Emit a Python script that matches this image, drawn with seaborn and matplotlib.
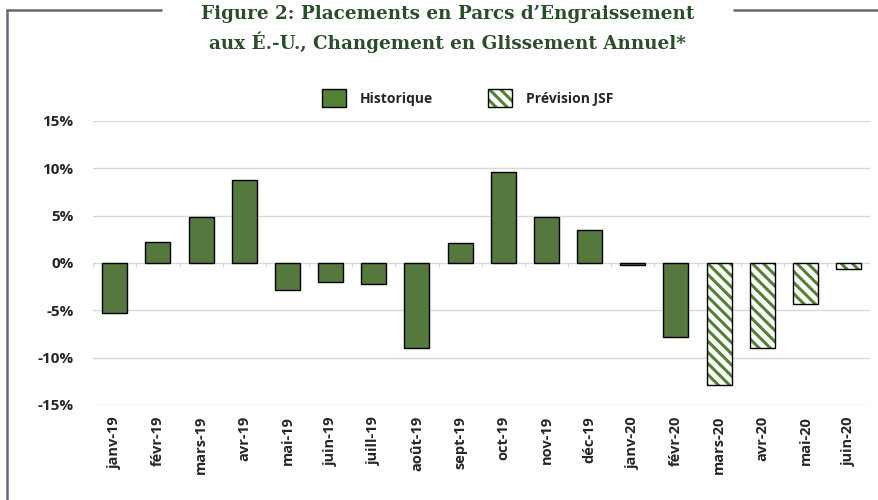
import numpy as np
import pandas as pd
import seaborn as sns
import matplotlib.pyplot as plt
from matplotlib.patches import Patch
from matplotlib.lines import Line2D
from matplotlib.colors import to_rgba

# monthly year-over-year change in placements (%)
hist_months = ['janv-19', 'févr-19', 'mars-19', 'avr-19', 'mai-19', 'juin-19', 'juill-19',
               'août-19', 'sept-19', 'oct-19', 'nov-19', 'déc-19', 'janv-20', 'févr-20']
hist_values = [-5.3, 2.2, 4.9, 8.8, -2.8, -2.0, -2.2, -9.0, 2.1, 9.6, 4.9, 3.5, -0.2, -7.8]
fcst_months = ['mars-20', 'avr-20', 'mai-20', 'juin-20']
fcst_values = [-12.9, -9.0, -4.3, -0.6]
y_ticks = [-15, -10, -5, 0, 5, 10, 15]

green = '#538135'
title_col = '#2a4d2a'
frame_col = '#5f6b76'
HATCH = '\\\\\\'

df = pd.concat([
    pd.DataFrame({'mois': hist_months, 'val': hist_values, 'type': 'Historique'}),
    pd.DataFrame({'mois': fcst_months, 'val': fcst_values, 'type': 'Prévision JSF'}),
], ignore_index=True)

sns.set_style('white')
plt.rcParams['font.family'] = ['Open Sans', 'DejaVu Sans']
plt.rcParams['hatch.linewidth'] = 2.2

fig = plt.figure(figsize=(8.79, 5.0), dpi=100)
ax = fig.add_axes([0.106, 0.19, 0.884, 0.568])

sns.barplot(data=df, x='mois', y='val', hue='type', dodge=False, width=0.58,
            palette={'Historique': green, 'Prévision JSF': 'white'},
            edgecolor='black', linewidth=1, legend=False, ax=ax, zorder=3)

# forecast bars: green hatching, black outline
for p in ax.containers[1]:
    p.set_hatch(HATCH)
    p._hatch_color = to_rgba(green)

ax.set_ylim(-15, 15)
ax.set_xlim(-0.5, len(df) - 0.5)
ax.set_yticks(y_ticks)
ax.set_yticklabels([f'{t}%' for t in y_ticks], fontsize=11, fontweight='bold')
ax.tick_params(axis='x', rotation=90, labelsize=10.5, pad=8, length=0)
ax.tick_params(axis='y', length=0, pad=14)
for lab in ax.get_xticklabels():
    lab.set_fontweight('bold')
ax.set_xlabel('')
ax.set_ylabel('')
ax.grid(axis='y', color='#d9d9d9', linewidth=1, zorder=0)
for s in ax.spines.values():
    s.set_visible(False)

# tick marks on zero line at category boundaries
ax.vlines(np.arange(len(df) + 1) - 0.5, -0.45, 0, color='#d9d9d9', linewidth=1, zorder=1)

# legend
h_hist = Patch(facecolor=green, edgecolor='black', linewidth=1)
h_fc = Patch(facecolor='white', edgecolor='black', hatch=HATCH, linewidth=1)
leg = fig.legend([h_hist, h_fc], ['Historique', 'Prévision JSF'], ncol=2, frameon=False,
                 loc='center', bbox_to_anchor=(0.532, 0.804), handlelength=1.7,
                 handleheight=1.65, columnspacing=4.0, handletextpad=1.0,
                 prop={'weight': 'bold', 'size': 10})
leg.legend_handles[1]._hatch_color = to_rgba(green)

# title
fig.text(0.509, 0.972, 'Figure 2: Placements en Parcs d\u2019Engraissement',
         ha='center', va='center', fontsize=13.2, fontweight='bold',
         family='DejaVu Serif', color=title_col)
fig.text(0.509, 0.916, 'aux É.-U., Changement en Glissement Annuel*',
         ha='center', va='center', fontsize=13.2, fontweight='bold',
         family='DejaVu Serif', color=title_col)

# frame lines
fig.add_artist(Line2D([0.008, 0.008], [0.0, 0.98], color=frame_col, lw=1.8))
fig.add_artist(Line2D([0.008, 0.183], [0.98, 0.98], color=frame_col, lw=1.8))
fig.add_artist(Line2D([0.835, 1.0], [0.98, 0.98], color=frame_col, lw=1.8))

fig.savefig('out.png', dpi=100)
